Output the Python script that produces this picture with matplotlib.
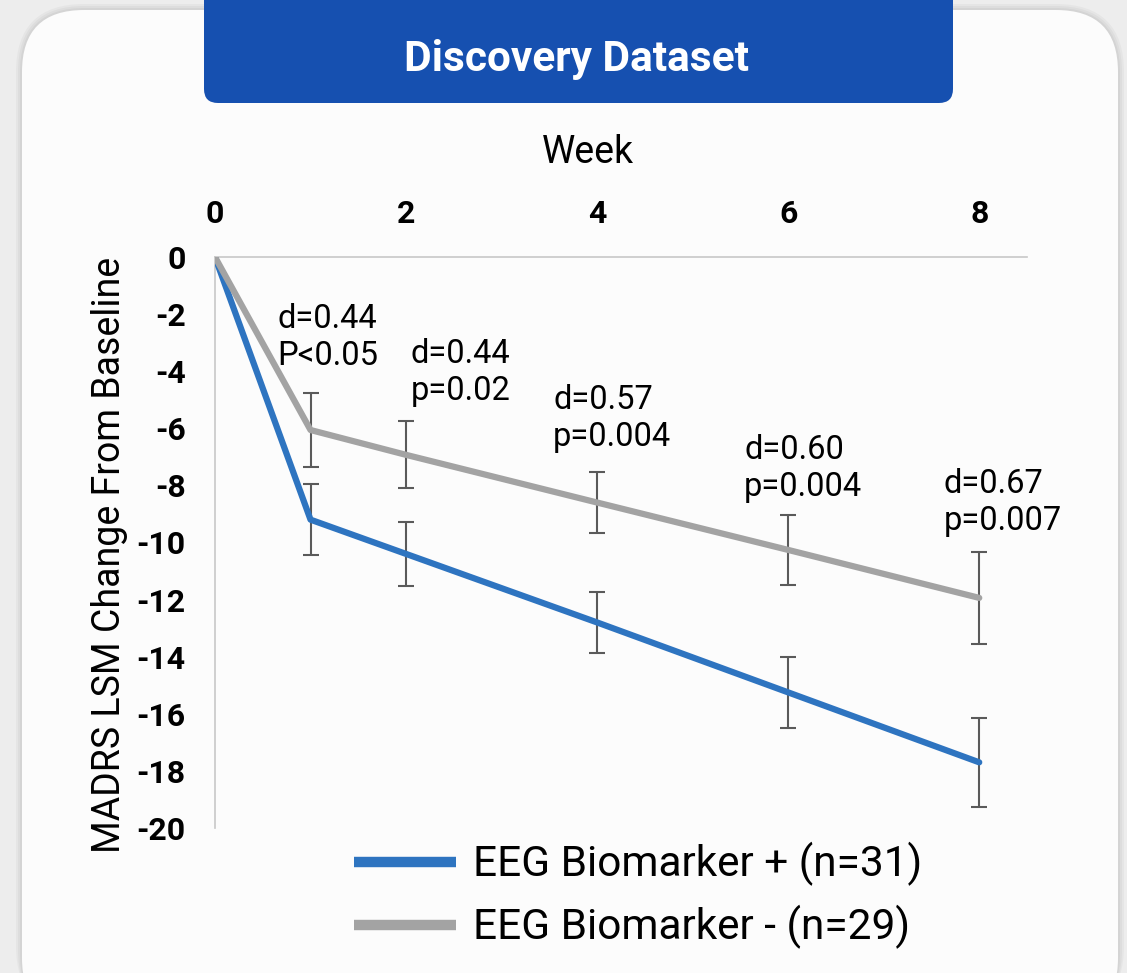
import matplotlib
matplotlib.use('Agg')
import matplotlib.pyplot as plt
from matplotlib.patches import FancyBboxPatch

plt.rcParams['font.family'] = ['Roboto', 'DejaVu Sans']
plt.rcParams['axes.unicode_minus'] = False

weeks = [0, 1, 2, 4, 6, 8]
pos_mean = [0, -9.2, -10.4, -12.8, -15.25, -17.7]
pos_err = [0, 1.25, 1.12, 1.07, 1.25, 1.55]
neg_mean = [0, -6.06, -6.93, -8.6, -10.26, -11.94]
neg_err = [0, 1.28, 1.17, 1.08, 1.24, 1.6]

stat_x = [0.65, 2.05, 3.54, 5.54, 7.63]
stat_y = [-1.6, -2.85, -4.45, -6.2, -7.4]
stat_labels = ['d=0.44\nP<0.05', 'd=0.44\np=0.02', 'd=0.57\np=0.004',
               'd=0.60\np=0.004', 'd=0.67\np=0.007']

blue = '#2E74C0'
gray = '#A3A3A3'
err_color = '#5A5A5A'

fig = plt.figure(figsize=(11.27, 9.73), dpi=100)
fig.patch.set_facecolor('#EDEDED')

# background card in pixel coordinates
bg = fig.add_axes([0, 0, 1, 1])
bg.set_xlim(0, 1127)
bg.set_ylim(973, 0)
bg.axis('off')
for i, a in enumerate([0.03, 0.03, 0.04]):
    g = 6 - i * 2
    bg.add_patch(FancyBboxPatch((22 - g, 10 - g), 1096 + 2 * g, 1010,
                                boxstyle='round,pad=0,rounding_size=%d' % (62 + g),
                                fc='black', ec='none', alpha=a))
bg.add_patch(FancyBboxPatch((22, 10), 1096, 1010,
                            boxstyle='round,pad=0,rounding_size=62',
                            fc='#FCFCFC', ec='none'))
bg.add_patch(FancyBboxPatch((204, -30), 749, 133,
                            boxstyle='round,pad=0,rounding_size=14',
                            fc='#1650B0', ec='none'))
bg.text(576, 60, 'Discovery Dataset', color='white', fontsize=30.5,
        fontweight='bold', ha='center', va='center')

ax = fig.add_axes([215 / 1127, 1 - 828 / 973, 812 / 1127, 571 / 973])
ax.patch.set_alpha(0)

ax.errorbar(weeks[1:], pos_mean[1:], yerr=pos_err[1:], fmt='none',
            ecolor=err_color, elinewidth=1.5, capsize=6, capthick=1.5, zorder=2)
ax.errorbar(weeks[1:], neg_mean[1:], yerr=neg_err[1:], fmt='none',
            ecolor=err_color, elinewidth=1.5, capsize=6, capthick=1.5, zorder=2)
ax.plot(weeks, pos_mean, color=blue, lw=4.5, solid_capstyle='round',
        label='EEG Biomarker + (n=31)', zorder=3)
ax.plot(weeks, neg_mean, color=gray, lw=4.5, solid_capstyle='round',
        label='EEG Biomarker - (n=29)', zorder=3)

for x, y, s in zip(stat_x, stat_y, stat_labels):
    ax.text(x, y, s, fontsize=23.5, ha='left', va='top', linespacing=1.2)

ax.set_xlim(0, 8.5)
ax.set_ylim(-20, 0)
ax.set_xticks([0, 2, 4, 6, 8])
ax.set_yticks(range(-20, 1, 2))
ax.xaxis.tick_top()
ax.xaxis.set_label_position('top')
ax.tick_params(axis='x', length=0, pad=20, labelsize=23)
ax.tick_params(axis='y', length=0, pad=21, labelsize=23)
for lab in ax.get_xticklabels() + ax.get_yticklabels():
    lab.set_fontweight('bold')
ax.set_xlabel('Week', fontsize=27)
ax.xaxis.set_label_coords(0.459, 1.164)
ax.set_ylabel('MADRS LSM Change From Baseline', fontsize=27)
ax.yaxis.set_label_coords(-0.107, 0.478)

for side in ['right', 'bottom']:
    ax.spines[side].set_visible(False)
for side in ['top', 'left']:
    ax.spines[side].set_color('#C8C8C8')
    ax.spines[side].set_linewidth(1.2)

handles, labels = ax.get_legend_handles_labels()
leg = fig.legend(handles, labels, loc='upper left',
                 bbox_to_anchor=(316 / 1127, 1 - 804 / 973), frameon=False,
                 fontsize=30.5, handlelength=2.4, handletextpad=0.4,
                 labelspacing=0.45)
for h in leg.get_lines():
    h.set_linewidth(7.5)
    h.set_solid_capstyle('butt')

fig.savefig('out.png', dpi=100, facecolor=fig.get_facecolor())
